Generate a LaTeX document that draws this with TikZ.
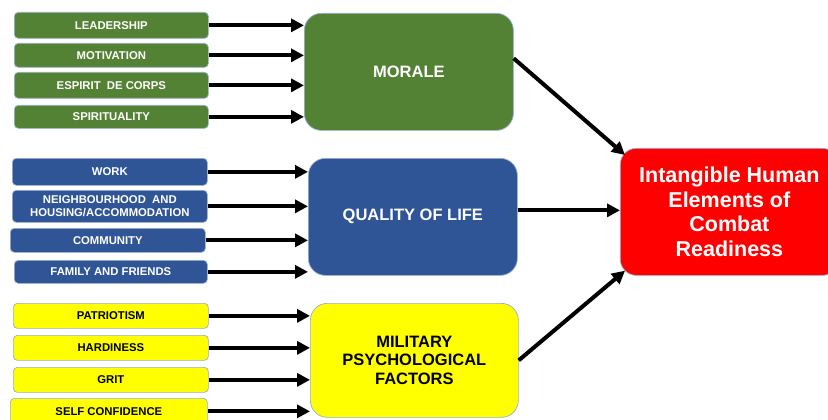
\documentclass[tikz,border=0pt]{standalone}
\usepackage{fontspec}
\setmainfont{Liberation Sans}
\usetikzlibrary{arrows.meta}
\definecolor{moralegreen}{RGB}{84,130,53}
\definecolor{lifeblue}{RGB}{47,85,151}
\definecolor{psyyellow}{RGB}{255,255,0}
\definecolor{readyred}{RGB}{255,0,0}
\definecolor{edgegray}{RGB}{150,175,205}
\tikzset{
  box/.style={draw=edgegray, line width=0.7pt, inner sep=0pt, align=center, anchor=north west},
  smallbox/.style={box, rounded corners=4pt, font=\bfseries\fontsize{11.3}{13}\selectfont},
  bigbox/.style={box, rounded corners=17pt, font=\bfseries\fontsize{16.5}{18.5}\selectfont},
  greenbox/.style={fill=moralegreen, text=white},
  bluebox/.style={fill=lifeblue, text=white},
  yellowbox/.style={fill=psyyellow, text=black},
  feed/.style={line width=4pt, -{Triangle[length=13pt,width=13pt]}}
}
\begin{document}
\begin{tikzpicture}[x=1pt, y=-1pt]
\useasboundingbox (0,0) rectangle (828,420);

% morale group
\node[smallbox, greenbox, minimum width=194pt, minimum height=26pt] (lead) at (14,12) {LEADERSHIP};
\node[smallbox, greenbox, minimum width=194pt, minimum height=24pt] (moti) at (14,43) {MOTIVATION};
\node[smallbox, greenbox, minimum width=194pt, minimum height=26pt] (corps) at (14,72) {ESPIRIT~ DE CORPS};
\node[smallbox, greenbox, minimum width=194pt, minimum height=23pt] (spirit) at (14,105) {SPIRITUALITY};
\node[bigbox, greenbox, minimum width=209pt, minimum height=117pt] (morale) at (304,13) {MORALE};

% quality of life group
\node[smallbox, bluebox, minimum width=195pt, minimum height=27pt] (work) at (12,158) {WORK};
\node[smallbox, bluebox, minimum width=195pt, minimum height=32pt] (hood) at (12,190) {NEIGHBOURHOOD~ AND\\HOUSING/ACCOMMODATION};
\node[smallbox, bluebox, minimum width=195pt, minimum height=24pt] (comm) at (10,228) {COMMUNITY};
\node[smallbox, bluebox, minimum width=193pt, minimum height=23pt] (family) at (14,260) {FAMILY AND FRIENDS};
\node[bigbox, bluebox, minimum width=209pt, minimum height=117pt] (qol) at (308,158) {QUALITY OF LIFE};

% military psychological factors group
\node[smallbox, yellowbox, minimum width=195pt, minimum height=25pt] (patri) at (13,303) {PATRIOTISM};
\node[smallbox, yellowbox, minimum width=195pt, minimum height=25pt] (hardy) at (13,335) {HARDINESS};
\node[smallbox, yellowbox, minimum width=195pt, minimum height=25pt] (grit) at (13,367) {GRIT};
\node[smallbox, yellowbox, minimum width=197pt, minimum height=26pt] (selfc) at (10,398) {SELF CONFIDENCE};
\node[bigbox, yellowbox, minimum width=208pt, minimum height=114pt] (mil) at (310,303) {MILITARY\\PSYCHOLOGICAL\\FACTORS};

% outcome
\node[box, rounded corners=16pt, fill=readyred, text=white, minimum width=218pt, minimum height=127pt,
      font=\bfseries\fontsize{21.5}{24.5}\selectfont] (ihe) at (620,148)
      {\raisebox{-2pt}{\parbox{200pt}{\centering Intangible Human\\Elements of\\Combat\\Readiness}}};

% feeders into the three groups
\foreach \s/\t in {lead/morale, moti/morale, corps/morale, spirit/morale,
                   work/qol, hood/qol, comm/qol, family/qol,
                   patri/mil, hardy/mil, grit/mil, selfc/mil}
  \draw[feed] (\s.east) -- (\s.east -| \t.west);

% groups into the outcome
\draw[feed] ([yshift=13.5pt]morale.east) -- ([xshift=5pt,yshift=-7pt]ihe.north west);
\draw[feed] ([yshift=6.5pt]qol.east) -- ([yshift=1.5pt]ihe.west);
\draw[feed] (mil.east) -- ([xshift=5pt,yshift=5pt]ihe.south west);
\end{tikzpicture}
\end{document}
